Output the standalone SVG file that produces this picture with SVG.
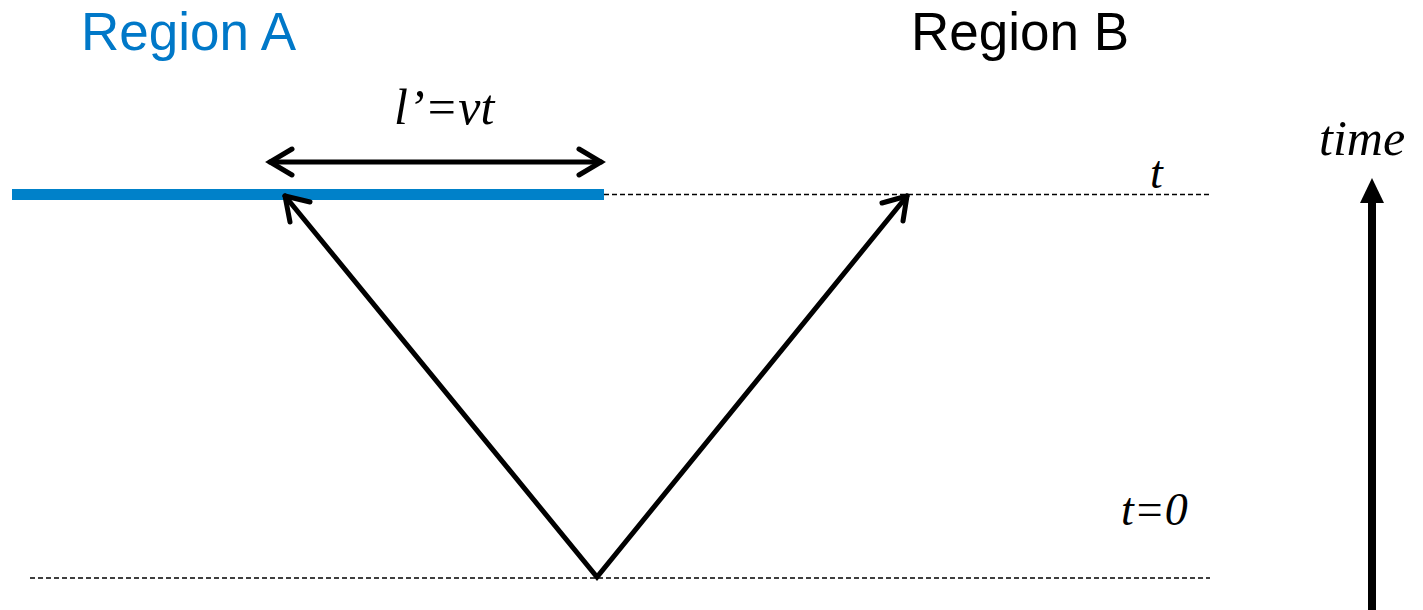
<svg xmlns="http://www.w3.org/2000/svg" width="1423" height="610" viewBox="0 0 1423 610">
<style>
.sans{font-family:"Liberation Sans",Arial,sans-serif;font-size:53px}
.it{font-family:"Liberation Serif","Times New Roman",serif;font-style:italic;font-size:46px;fill:#000}
.big{font-size:50px}
.dash{stroke:#000;stroke-width:1.4;stroke-dasharray:5 3;fill:none}
.arr{stroke:#000;stroke-width:5;fill:none;stroke-linecap:round}
</style>
<defs>
<marker id="chev" viewBox="-30 -20 40 40" markerWidth="40" markerHeight="40" refX="0" refY="0" orient="auto-start-reverse" markerUnits="userSpaceOnUse">
<path d="M-22,-13 L0,0 L-22,13" fill="none" stroke="#000" stroke-width="5" stroke-linecap="round" stroke-linejoin="miter"/>
</marker>
</defs>
<g id="labels">
<text class="sans" x="81" y="50" fill="#0078C8">Region A</text>
<text class="sans" x="911" y="50" fill="#000">Region B</text>
<text class="it big" x="394" y="124">l’=vt</text>
<text class="it" x="1150" y="188">t</text>
<text class="it" x="1121" y="525">t=0</text>
<text class="it big" x="1319" y="155">time</text>
</g>
<g id="region-a-line">
<line x1="12" y1="194.5" x2="604" y2="194.5" stroke="#0081C9" stroke-width="11"/>
</g>
<g id="connectors">
<line class="dash" x1="604" y1="194.5" x2="1210" y2="194.5"/>
<line class="dash" x1="30" y1="578" x2="1210" y2="578"/>
<line class="arr" x1="270" y1="162" x2="601" y2="162" marker-start="url(#chev)" marker-end="url(#chev)"/>
<polyline class="arr" points="285,196 597,577 907,196" stroke-linejoin="miter"/>
<path d="M285,196 L290,222 M285,196 L310,202" class="arr"/>
<path d="M907,196 L882,203 M907,196 L903,221" class="arr"/>
<line x1="1372" y1="610" x2="1372" y2="198" stroke="#000" stroke-width="8"/>
<polygon points="1372,178 1384,203 1360,203" fill="#000"/>
</g>
</svg>
